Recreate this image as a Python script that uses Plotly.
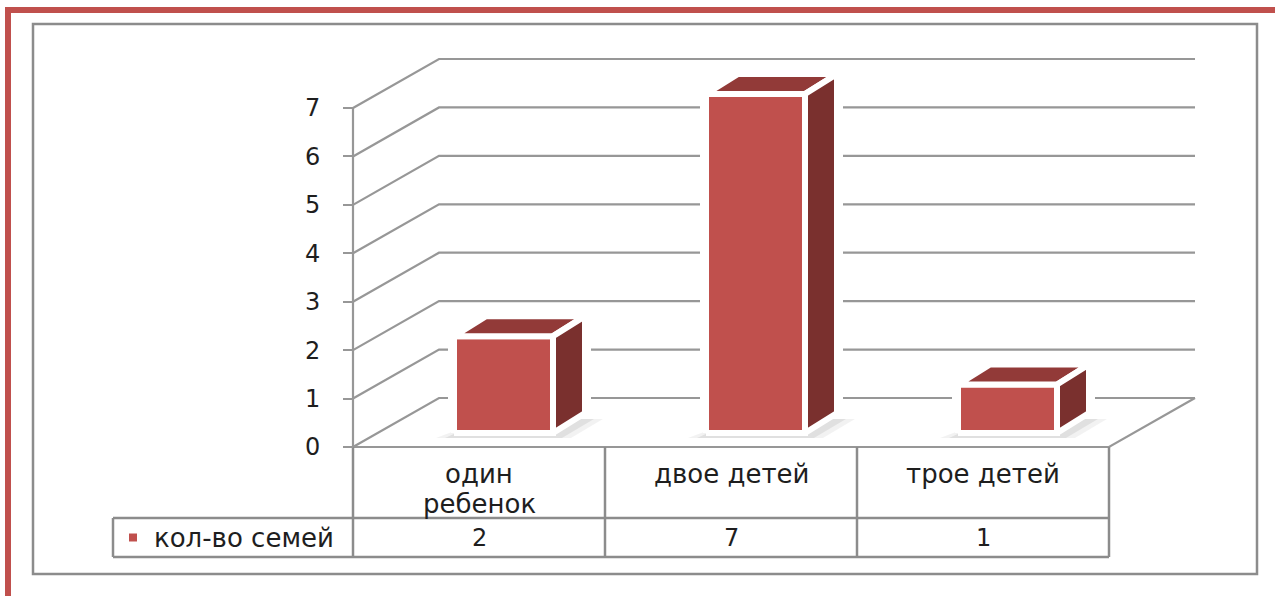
import plotly.graph_objects as go

# ---------------- data ----------------
categories = ["один<br>ребенок", "двое детей", "трое детей"]
values = [2, 7, 1]
series_name = "кол-во семей"
y_ticks = [0, 1, 2, 3, 4, 5, 6, 7]

# ---------------- geometry helpers (canvas pixels -> axis units) ----------------
W, H = 1275, 596
COL_PX = 252.0      # width of one category column
UNIT_PX = 48.43     # pixels per value unit
ORIGIN_X_PX = 479.0  # centre of the first category column
ORIGIN_Y_PX = 447.0  # value 0 on the front plane


def dx(p):
    return p / COL_PX


def dy(p):
    return p / UNIT_PX


def X(p):
    return (p - ORIGIN_X_PX) / COL_PX


def Y(p):
    return (ORIGIN_Y_PX - p) / UNIT_PX


def PX(p):
    return p / W


def PY(p):
    return 1 - p / H


x_range = [X(0), X(W)]
y_range = [Y(H), Y(0)]

WDX, WDY = dx(86), dy(49)          # depth of the 3-D floor / back wall
OX, OY = dx(24.5), dy(14)          # bar front face offset into depth
BW = dx(99)                        # bar width
BDX, BDY = dx(32), dy(20)          # bar depth

RED = "#C0504D"
TOPC = "#923A38"
SIDEC = "#7A302E"
GRID = "#979797"
TABLE = "#8C8C8C"
TXT = "#1E1E1E"
FONT = "DejaVu Sans"

n = len(categories)
left, right = -0.5, n - 0.5
vmax = max(y_ticks)

fig = go.Figure()

# back wall gridlines (with left side wall diagonals)
gx, gy = [], []
for v in y_ticks:
    gx += [left, left + WDX, right + WDX, None]
    gy += [v, v + WDY, v + WDY, None]
# floor front edge and right edge
gx += [left, right, right + WDX, None]
gy += [0, 0, WDY, None]
fig.add_trace(go.Scatter(x=gx, y=gy, mode="lines",
                         line=dict(color=GRID, width=2.2), hoverinfo="skip"))

# y-axis line
fig.add_trace(go.Scatter(x=[left, left], y=[0, vmax], mode="lines",
                         line=dict(color=GRID, width=2.2), hoverinfo="skip"))

# bars
for i, v in enumerate(values):
    xl = i + OX - BW / 2
    xr = xl + BW
    yb = OY
    yt = OY + v
    # white halo (breaks gridlines around the bar)
    sx = [xl, xr, xr + BDX, xr + BDX, xl + BDX, xl, xl]
    sy = [yb, yb, yb + BDY, yt + BDY, yt + BDY, yt, yb]
    fig.add_trace(go.Scatter(x=sx, y=sy, mode="lines", fill="toself",
                             fillcolor="white", line=dict(color="white", width=12),
                             hoverinfo="skip"))
    # soft shadow on the floor
    for pad, alpha in [(dx(18), 0.05), (dx(9), 0.07)]:
        shx = [xl - pad, xr + pad, xr + BDX + pad, xl + BDX]
        shy = [yb - dy(5), yb - dy(5), yb + BDY * 0.7, yb + BDY * 0.7]
        fig.add_trace(go.Scatter(x=shx + [shx[0]], y=shy + [shy[0]], mode="lines",
                                 fill="toself", fillcolor=f"rgba(0,0,0,{alpha})",
                                 line=dict(width=0), hoverinfo="skip"))
    faces = [
        ([xl, xr, xr, xl, xl], [yb, yb, yt, yt, yb], RED),
        ([xl, xr, xr + BDX, xl + BDX, xl], [yt, yt, yt + BDY, yt + BDY, yt], TOPC),
        ([xr, xr + BDX, xr + BDX, xr, xr], [yb, yb + BDY, yt + BDY, yt, yb], SIDEC),
    ]
    for fx, fy, col in faces:
        fig.add_trace(go.Scatter(x=fx, y=fy, mode="lines", fill="toself",
                                 fillcolor=col, line=dict(color="white", width=6),
                                 hoverinfo="skip"))

# data table
ROW1, ROW2 = Y(518), Y(557)
LEG_X = X(113)
tx, ty = [], []
for k in range(n + 1):
    tx += [left + k, left + k, None]
    ty += [0, ROW2, None]
tx += [LEG_X, right, None, LEG_X, right, None, LEG_X, LEG_X, None]
ty += [ROW1, ROW1, None, ROW2, ROW2, None, ROW1, ROW2, None]
fig.add_trace(go.Scatter(x=tx, y=ty, mode="lines",
                         line=dict(color=TABLE, width=2.5), hoverinfo="skip"))

# legend key in the table
fig.add_trace(go.Scatter(x=[X(133)], y=[(ROW1 + ROW2) / 2], mode="markers",
                         marker=dict(symbol="square", size=8, color=RED),
                         hoverinfo="skip"))

TSIZE = 26
LINE_PX = 30
annotations = []
for i, c in enumerate(categories):
    for j, line in enumerate(c.split("<br>")):
        annotations.append(dict(x=i, y=Y(474 + LINE_PX * j), xref="x", yref="y",
                                text=line, showarrow=False, xanchor="center",
                                yanchor="middle",
                                font=dict(family=FONT, size=TSIZE, color=TXT)))
    annotations.append(dict(x=i, y=(ROW1 + ROW2) / 2, xref="x", yref="y",
                            text=str(values[i]), showarrow=False,
                            xanchor="center", yanchor="middle",
                            font=dict(family=FONT, size=24, color=TXT)))
annotations.append(dict(x=X(152), y=(ROW1 + ROW2) / 2, xref="x", yref="y",
                        text=series_name, showarrow=False, xanchor="left",
                        yanchor="middle", font=dict(family=FONT, size=TSIZE, color=TXT)))

shapes = [
    # outer red border (left and top)
    dict(type="rect", xref="paper", yref="paper", x0=PX(5), x1=PX(11),
         y0=PY(596), y1=PY(7), fillcolor=RED, line=dict(width=0), layer="above"),
    dict(type="rect", xref="paper", yref="paper", x0=PX(5), x1=PX(1275),
         y0=PY(13), y1=PY(7), fillcolor=RED, line=dict(width=0), layer="above"),
    # grey chart-area frame
    dict(type="rect", xref="paper", yref="paper", x0=PX(33), x1=PX(1257),
         y0=PY(574), y1=PY(24), line=dict(color=TABLE, width=2.5), layer="above"),
]

fig.update_layout(
    width=W, height=H,
    margin=dict(l=0, r=0, t=0, b=0, pad=0),
    paper_bgcolor="white", plot_bgcolor="white",
    showlegend=False,
    xaxis=dict(range=x_range, visible=False, fixedrange=True),
    yaxis=dict(range=y_range, anchor="free", position=PX(353),
               tickvals=y_ticks, ticktext=[str(t) for t in y_ticks],
               ticks="outside", ticklen=10, tickwidth=2, tickcolor=GRID,
               ticklabelstandoff=18,
               tickfont=dict(family=FONT, size=24, color=TXT),
               showgrid=False, zeroline=False, showline=False, fixedrange=True),
    annotations=annotations,
    shapes=shapes,
)

fig.write_html("out.html")
